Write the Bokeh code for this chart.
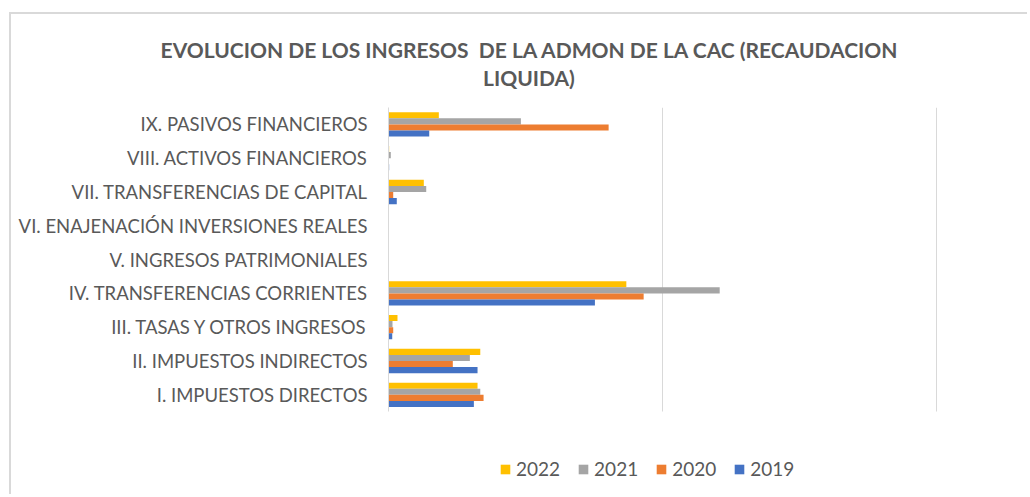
from bokeh.plotting import figure
from bokeh.models import ColumnDataSource, FixedTicker, Legend, Div, Range1d
from bokeh.layouts import column
from bokeh.transform import dodge
from bokeh.embed import file_html
from bokeh.resources import INLINE

categories = [
    "I. IMPUESTOS DIRECTOS",
    "II. IMPUESTOS INDIRECTOS",
    "III. TASAS Y OTROS INGRESOS",
    "IV. TRANSFERENCIAS CORRIENTES",
    "V. INGRESOS PATRIMONIALES",
    "VI. ENAJENACIÓN INVERSIONES REALES",
    "VII. TRANSFERENCIAS DE CAPITAL",
    "VIII. ACTIVOS FINANCIEROS",
    "IX. PASIVOS FINANCIEROS",
]
years = ["2022", "2021", "2020", "2019"]
v2022 = [1624, 1674, 164, 4338, 0, 0, 644, 12, 918]
v2021 = [1674, 1484, 73, 6041, 0, 0, 688, 42, 2415]
v2020 = [1734, 1173, 86, 4654, 0, 0, 86, 5, 4015]
v2019 = [1557, 1624, 68, 3765, 0, 0, 151, 12, 743]
x_ticks = [0, 5000, 10000]

title_line1 = "EVOLUCION DE LOS INGRESOS&nbsp; DE LA ADMON DE LA CAC (RECAUDACION"
title_line2 = "LIQUIDA)"

colors = {"2022": "#FFC000", "2021": "#A5A5A5", "2020": "#ED7D31", "2019": "#4472C4"}
offsets = {"2022": 0.27, "2021": 0.09, "2020": -0.09, "2019": -0.27}
TXT = "#595959"
GRID = "#d9d9d9"
FONT = "Lato"

W = 1016
pos = [i + 1 for i in range(len(categories))]
src = ColumnDataSource(dict(pos=pos, v2022=v2022, v2021=v2021, v2020=v2020, v2019=v2019))

title_html = (
    f'<div style="position:relative;width:{W}px;height:85px;">'
    f'<div style="position:absolute;left:518px;top:22px;transform:translateX(-50%);'
    f'text-align:center;white-space:nowrap;font-family:{FONT};font-weight:bold;'
    f'font-size:21px;line-height:28px;color:{TXT};">'
    f'{title_line1}<br>{title_line2}</div></div>'
)
title_div = Div(text=title_html, width=W, height=85, margin=0)

n = len(categories)
px_per_cat = 33.8
p = figure(width=W, height=395, output_backend="svg", toolbar_location=None, title=None,
           y_range=Range1d(n + 0.5 - 387 / px_per_cat, n + 0.5), x_range=(0, 10050), margin=0)
p.min_border_left = 377
p.min_border_right = 88
p.min_border_top = 8
p.min_border_bottom = 0
p.outline_line_color = None
p.background_fill_color = "white"
p.border_fill_color = "white"

items = []
for y in years:
    r = p.hbar(y=dodge("pos", offsets[y]), right="v" + y, left=0,
               height=0.18, source=src, fill_color=colors[y], line_color=None)
    items.append((y, [r]))

p.xaxis.visible = False
p.xaxis.ticker = FixedTicker(ticks=x_ticks)
p.xgrid.ticker = FixedTicker(ticks=x_ticks)
p.xgrid.grid_line_color = GRID
p.xgrid.grid_line_width = 1
try:
    p.xgrid.cross_bounds = (0.5, n + 0.5)
except Exception:
    pass
p.ygrid.grid_line_color = None

p.yaxis.ticker = FixedTicker(ticks=pos)
p.yaxis.major_label_overrides = {pp: c for pp, c in zip(pos, categories)}
p.yaxis.bounds = (0.5, n + 0.5)
p.yaxis.axis_line_color = GRID
p.yaxis.major_tick_line_color = None
p.yaxis.minor_tick_line_color = None
p.yaxis.major_tick_out = 0
p.yaxis.major_tick_in = 0
p.yaxis.major_label_text_color = TXT
p.yaxis.major_label_text_font = FONT
p.yaxis.major_label_text_font_size = "18.5px"
p.yaxis.major_label_standoff = 21

legend = Legend(items=items, orientation="horizontal", location=(111, 14))
legend.label_text_font = FONT
legend.label_text_font_size = "19px"
legend.label_text_color = TXT
legend.glyph_width = 12
legend.glyph_height = 12
legend.label_standoff = 5
legend.spacing = 17
legend.padding = 5
legend.margin = 0
legend.border_line_color = None
legend.background_fill_alpha = 0
p.add_layout(legend, "center")

layout = column(title_div, p, spacing=0,
                styles={"border-left": f"2px solid {GRID}", "border-top": f"2px solid {GRID}",
                        "margin-left": "9px", "margin-top": "12px"})

open("out.html", "w").write(file_html(layout, INLINE))
